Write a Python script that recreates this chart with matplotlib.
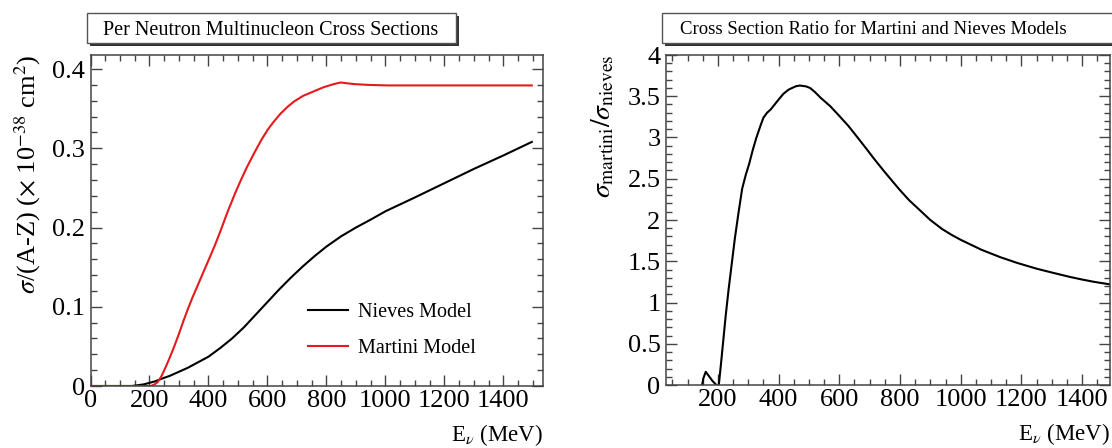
import numpy as np
import matplotlib
matplotlib.use("Agg")
import matplotlib.pyplot as plt
import matplotlib.patches as patches
from matplotlib.ticker import MultipleLocator, FuncFormatter

# per neutron cross sections (x 1e-38 cm^2) vs neutrino energy (MeV)
nieves_e = [0, 140, 160, 180, 200, 220, 240, 270, 300, 330, 360, 400, 440,
            480, 520, 560, 600, 640, 680, 720, 760, 800, 850, 900, 950,
            1000, 1100, 1200, 1300, 1400, 1496]
nieves_xs = [0, 0, 0.001, 0.002, 0.004, 0.006, 0.009, 0.013, 0.018, 0.023,
             0.029, 0.037, 0.048, 0.060, 0.074, 0.090, 0.106, 0.122, 0.137,
             0.151, 0.164, 0.176, 0.189, 0.200, 0.210, 0.2205, 0.238,
             0.256, 0.274, 0.291, 0.308]

martini_e = [0, 205, 217, 228, 240, 255, 270, 285, 300, 315, 330, 345, 360,
             375, 390, 405, 420, 440, 465, 490, 510, 530, 555, 580, 600, 620,
             645, 670, 690, 720, 758, 790, 825, 848, 870, 893, 940, 1006,
             1496]
martini_xs = [0, 0, 0.002, 0.005, 0.012, 0.024, 0.037, 0.051, 0.066, 0.082,
              0.097, 0.111, 0.124, 0.137, 0.150, 0.163, 0.176, 0.195, 0.220,
              0.243, 0.260, 0.276, 0.294, 0.311, 0.323, 0.333, 0.344, 0.353,
              0.359, 0.366, 0.372, 0.377, 0.381, 0.383, 0.382, 0.381, 0.380,
              0.3793, 0.3793]

# ratio martini / nieves
ratio_bump_e = [148, 152, 160, 170, 182, 195]
ratio_bump = [0.0, 0.08, 0.16, 0.11, 0.05, 0.0]

ratio_e = [203, 210, 218, 226, 235, 245, 256, 268, 280, 292, 303, 315, 327,
           340, 350, 362, 374, 387, 400, 416, 433, 456, 470, 490, 504, 520,
           539, 570, 598, 630, 656, 690, 715, 750, 798, 830, 868, 900, 939,
           970, 1000, 1068, 1130, 1186, 1250, 1304, 1360, 1398, 1440, 1492]
ratio = [0.0, 0.25, 0.55, 0.85, 1.15, 1.45, 1.78, 2.09, 2.38, 2.55, 2.68,
         2.85, 3.00, 3.14, 3.24, 3.30, 3.34, 3.40, 3.46, 3.53, 3.58, 3.62,
         3.63, 3.62, 3.60, 3.55, 3.48, 3.38, 3.27, 3.14, 3.02, 2.86, 2.74,
         2.58, 2.37, 2.24, 2.11, 2.00, 1.89, 1.82, 1.76, 1.64, 1.55, 1.48,
         1.41, 1.36, 1.31, 1.28, 1.25, 1.22]

plt.rcParams["font.family"] = ["Liberation Serif", "DejaVu Serif"]
plt.rcParams["mathtext.fontset"] = "stix"

W, H = 1112, 448
fig = plt.figure(figsize=(W / 100, H / 100), dpi=100)

ax1 = fig.add_axes([90.5 / W, (H - 386) / H, 452.5 / W, 331 / H])
ax2 = fig.add_axes([666 / W, (H - 385) / H, 444 / W, 330 / H])

fmt = FuncFormatter(lambda v, p: f"{v:g}")


def style_axes(ax, xmaj, xmin, ymaj, ymin):
    ax.xaxis.set_major_locator(MultipleLocator(xmaj))
    ax.xaxis.set_minor_locator(MultipleLocator(xmin))
    ax.yaxis.set_major_locator(MultipleLocator(ymaj))
    ax.yaxis.set_minor_locator(MultipleLocator(ymin))
    ax.yaxis.set_major_formatter(fmt)
    ax.xaxis.set_major_formatter(fmt)
    ax.tick_params(which="both", direction="in", top=True, right=True,
                   color="#444444", labelsize=19)
    ax.tick_params(which="major", length=8, width=1)
    ax.tick_params(which="minor", length=4, width=1)
    ax.tick_params(axis="x", pad=3)
    ax.tick_params(axis="y", pad=4)
    for s in ax.spines.values():
        s.set_color("#444444")
        s.set_linewidth(1.1)


# left panel
ax1.plot(nieves_e, nieves_xs, color="black", lw=1.5, label="Nieves Model")
ax1.plot(martini_e, martini_xs, color="#e41a1c", lw=1.5, label="Martini Model")
ax1.set_xlim(0, 1534)
ax1.set_ylim(0, 0.4177)
style_axes(ax1, 200, 50, 0.1, 0.02)
ax1.set_ylabel(r"$\sigma$/(A-Z) ($\times$ 10$^{-38}$ cm$^{2}$)",
               fontsize=19, loc="top")
ax1.yaxis.set_label_coords(-0.105, 1.0)
ax1.set_xlabel(r"E$_{\nu}$ (MeV)", fontsize=16.5, loc="right")
ax1.xaxis.set_label_coords(1.0, -0.11)
ax1.legend(loc="lower left", bbox_to_anchor=(0.44, 0.03), frameon=False,
           fontsize=14.5, handlelength=2.0, handletextpad=0.5,
           labelspacing=0.85)

# right panel
ax2.plot(ratio_bump_e, ratio_bump, color="black", lw=1.5)
ax2.plot(ratio_e, ratio, color="black", lw=1.5)
ax2.set_xlim(29, 1492)
ax2.set_ylim(0, 4)
style_axes(ax2, 200, 50, 0.5, 0.1)
ax2.set_ylabel(r"$\sigma_{\mathrm{martini}}/\sigma_{\mathrm{nieves}}$",
               fontsize=20, loc="top")
ax2.yaxis.set_label_coords(-0.112, 1.0)
ax2.set_xlabel(r"E$_{\nu}$ (MeV)", fontsize=16.5, loc="right")
ax2.xaxis.set_label_coords(1.0, -0.11)


# title boxes with shadow
def title_box(x0, x1, text, tx, size):
    y0, y1 = H - 43, H - 13
    shadow = patches.Rectangle((x0 + 3, y0 - 3), x1 - x0, y1 - y0,
                               transform=None, facecolor="#333333",
                               edgecolor="none", zorder=1)
    box = patches.Rectangle((x0, y0), x1 - x0, y1 - y0, transform=None,
                            facecolor="white", edgecolor="#555555",
                            linewidth=1, zorder=2)
    fig.patches.extend([shadow, box])
    fig.text(tx / W, (y0 + y1) / 2 / H, text, ha="center",
             va="center_baseline", fontsize=size, zorder=3)


title_box(87, 456, "Per Neutron Multinucleon Cross Sections", 271, 14.5)
title_box(662, 1125, "Cross Section Ratio for Martini and Nieves Models",
          873, 13.5)

fig.savefig("out.png", dpi=100)
